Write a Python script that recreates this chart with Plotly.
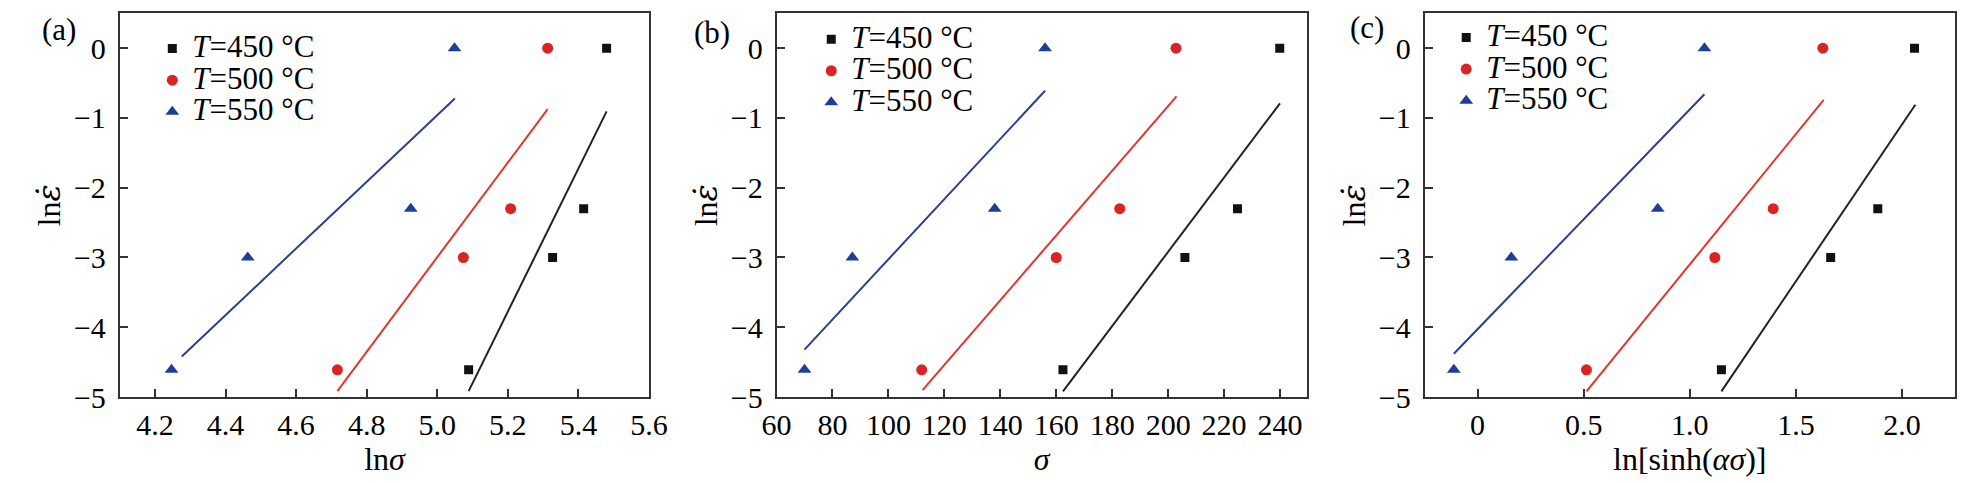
import plotly.graph_objects as go
from plotly.subplots import make_subplots

# ln(strain rate) levels, same for every temperature: 1, 0.1, 0.05, 0.01 s^-1
ln_rate = [0.0, -2.30, -3.00, -4.61]

temps = ["450", "500", "550"]

# (a) ln(sigma)
a_x = {
    "450": [5.480, 5.415, 5.327, 5.089],
    "500": [5.313, 5.208, 5.074, 4.717],
    "550": [5.049, 4.925, 4.463, 4.247],
}
a_fit_x = {"450": [5.089, 5.480], "500": [4.717, 5.313], "550": [4.276, 5.050]}
a_fit_y = {"450": [-4.915, -0.906], "500": [-4.915, -0.873], "550": [-4.420, -0.720]}

# (b) sigma
b_x = {
    "450": [239.9, 224.8, 206.0, 162.4],
    "500": [202.8, 182.7, 160.0, 111.9],
    "550": [156.0, 138.0, 87.1, 70.0],
}
b_fit_x = {"450": [162.4, 240.0], "500": [112.2, 203.0], "550": [70.0, 156.0]}
b_fit_y = {"450": [-4.92, -0.79], "500": [-4.90, -0.69], "550": [-4.32, -0.61]}

# (c) ln[sinh(alpha*sigma)]
c_x = {
    "450": [2.059, 1.886, 1.664, 1.149],
    "500": [1.627, 1.393, 1.118, 0.513],
    "550": [1.069, 0.849, 0.159, -0.112],
}
c_fit_x = {"450": [1.149, 2.063], "500": [0.513, 1.631], "550": [-0.112, 1.069]}
c_fit_y = {"450": [-4.92, -0.81], "500": [-4.92, -0.74], "550": [-4.38, -0.66]}

a_ticks = [4.2, 4.4, 4.6, 4.8, 5.0, 5.2, 5.4, 5.6]
a_ticktext = ["4.2", "4.4", "4.6", "4.8", "5.0", "5.2", "5.4", "5.6"]
b_ticks = [60, 80, 100, 120, 140, 160, 180, 200, 220, 240]
b_ticktext = [str(v) for v in b_ticks]
c_ticks = [0, 0.5, 1.0, 1.5, 2.0]
c_ticktext = ["0", "0.5", "1.0", "1.5", "2.0"]
y_ticks = [0, -1, -2, -3, -4, -5]

FONT = "Liberation Serif"
W, H = 1966, 483

marker_style = {
    "450": dict(symbol="square", size=9, color="#111111"),
    "500": dict(symbol="circle", size=11, color="#dc2323"),
    "550": dict(symbol="triangle-up", size=12, color="#1c3f95"),
}
line_color = {"450": "#222222", "500": "#e0352f", "550": "#2a3f8f"}

panels = [
    (a_x, a_fit_x, a_fit_y),
    (b_x, b_fit_x, b_fit_y),
    (c_x, c_fit_x, c_fit_y),
]

fig = make_subplots(rows=1, cols=3)

for i, (px, fx, fy) in enumerate(panels):
    col = i + 1
    leg = "legend" if i == 0 else f"legend{col}"
    for t in temps:
        fig.add_trace(go.Scatter(
            x=fx[t], y=fy[t], mode="lines",
            line=dict(color=line_color[t], width=2),
            showlegend=False, hoverinfo="skip",
        ), row=1, col=col)
    for t in temps:
        # legend font stays small so rows sit close; the span enlarges the text
        fig.add_trace(go.Scatter(
            x=px[t], y=ln_rate, mode="markers",
            marker=marker_style[t],
            name='<span style="font-size:31px"><i>T</i>=' + t + " °C</span>",
            legend=leg,
        ), row=1, col=col)

# panel placement in pixels
x_dom = [(98.3, 637.0), (766.4, 1305.5), (1425.5, 1965.0)]
y_dom = (1 - 402.7 / H, 1 - 5.5 / H)

axis_common = dict(
    showline=True, linecolor="#333333", linewidth=1.6, mirror=True,
    ticks="inside", ticklen=9, tickwidth=1.6, tickcolor="#333333",
    showgrid=False, zeroline=False,
    tickfont=dict(family=FONT, size=30, color="black"),
)

x_ranges = [[4.1, 5.601], [60, 249.5], [-0.25, 2.25]]
x_tickvals = [a_ticks, b_ticks, c_ticks]
x_ticktexts = [a_ticktext, b_ticktext, c_ticktext]
x_titles = ["ln<i>σ</i>", "<i>σ</i>", "ln[sinh(<i>ασ</i>)]"]
y_title = 'ln<span style="font-family:DejaVu Serif"><i>ε̇</i></span>'

for i in range(3):
    col = i + 1
    fig.update_xaxes(
        domain=[x_dom[i][0] / W, x_dom[i][1] / W],
        range=x_ranges[i], tickvals=x_tickvals[i], ticktext=x_ticktexts[i],
        ticklabelstandoff=0,
        title=dict(text=x_titles[i], font=dict(family=FONT, size=32, color="black"), standoff=2),
        row=1, col=col, **axis_common,
    )
    fig.update_yaxes(
        domain=list(y_dom), range=[-5.005, 0.5], tickvals=y_ticks,
        ticklabelstandoff=6,
        title=dict(text=y_title, font=dict(family=FONT, size=32, color="black"), standoff=4),
        row=1, col=col, **axis_common,
    )

legend_common = dict(
    bgcolor="rgba(0,0,0,0)", font=dict(family=FONT, size=22, color="black"),
    xanchor="left", yanchor="top", tracegroupgap=0, itemwidth=30,
)
fig.update_layout(
    legend=dict(x=131.5 / W, y=1 - 20.5 / H, **legend_common),
    legend2=dict(x=801.7 / W, y=1 - 10.7 / H, **legend_common),
    legend3=dict(x=1447.5 / W, y=1 - 9.0 / H, **legend_common),
)

panel_labels = [("(a)", 37, 22), ("(b)", 701, 25), ("(c)", 1367, 20)]
for txt, lx, ly in panel_labels:
    fig.add_annotation(
        text=txt, xref="paper", yref="paper", x=lx / W, y=1 - ly / H,
        xanchor="center", yanchor="middle", showarrow=False,
        font=dict(family=FONT, size=31, color="black"),
    )

fig.update_layout(
    width=W, height=H,
    margin=dict(l=0, r=0, t=0, b=0),
    plot_bgcolor="white", paper_bgcolor="white",
    showlegend=True,
)

fig.write_html("out.html")
